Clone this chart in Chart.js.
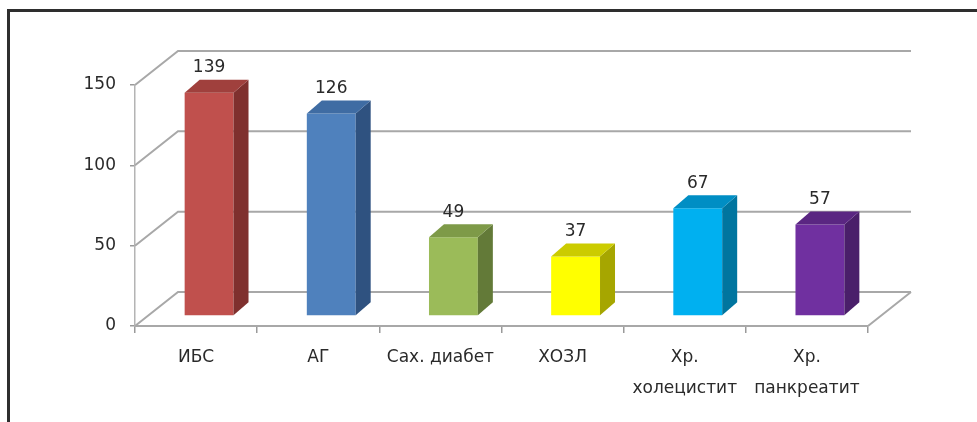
<!DOCTYPE html>
<html>
<head>
<meta charset="utf-8">
<script src="https://cdn.jsdelivr.net/npm/chart.js@4.4.0/dist/chart.umd.min.js"></script>
<style>
  html, body { margin: 0; padding: 0; background: #fff; }
  canvas { display: block; }
</style>
</head>
<body>
<canvas id="barChart" width="977" height="422"></canvas>
<script>
// data
const categories = ["ИБС", "АГ", "Сах. диабет", "ХОЗЛ", ["Хр.", "холецистит"], ["Хр.", "панкреатит"]];
const counts = [139, 126, 49, 37, 67, 57];
const yTickValues = [0, 50, 100, 150];

const frontColors = ["#C0504D", "#4F81BD", "#9BBB59", "#FFFF00", "#00B0F0", "#7030A0"];
const topColors = ["#A0403D", "#3F6CA3", "#7E9A48", "#CCCC00", "#008EC4", "#5A2682"];
const sideColors = ["#7F302E", "#2F5280", "#637A38", "#A6A600", "#00759F", "#4A1F6A"];

const FONT = "'DejaVu Sans', sans-serif";
const TEXT = "#2a2a2a";
const GRID = "#a8a8a8";

// 3d offsets (px)
const wallDepth = { dx: 43, dy: -34 };
const barShift = { dx: 13, dy: -10 };
const barDepth = { dx: 15, dy: -13 };

const fake3d = {
    id: 'fake3d',
    beforeDraw(chart) {
        const c = chart.ctx;
        c.save();
        c.strokeStyle = "#2e2e2e";
        c.lineWidth = 3;
        c.beginPath();
        c.moveTo(8.5, 422);
        c.lineTo(8.5, 10.5);
        c.lineTo(977, 10.5);
        c.stroke();
        c.restore();
    },
    beforeDatasetsDraw(chart) {
        const c = chart.ctx;
        const a = chart.chartArea;
        const ys = chart.scales.y;
        c.save();
        c.strokeStyle = GRID;
        c.lineWidth = 2;
        c.beginPath();
        yTickValues.forEach(v => {
            const py = ys.getPixelForValue(v);
            c.moveTo(a.left, py);
            c.lineTo(a.left + wallDepth.dx, py + wallDepth.dy);
            c.lineTo(a.right + wallDepth.dx, py + wallDepth.dy);
        });
        c.moveTo(a.right, a.bottom);
        c.lineTo(a.right + wallDepth.dx, a.bottom + wallDepth.dy);
        c.stroke();
        c.restore();
        // bars sit a bit deeper than the front plane
        c.save();
        c.translate(barShift.dx, barShift.dy);
    },
    afterDatasetsDraw(chart) {
        const c = chart.ctx;
        c.restore();
        const bars = chart.getDatasetMeta(0).data;
        c.save();
        bars.forEach((bar, i) => {
            const p = bar.getProps(['x', 'y', 'base', 'width'], true);
            const l = p.x - p.width / 2 + barShift.dx;
            const r = p.x + p.width / 2 + barShift.dx;
            const t = p.y + barShift.dy;
            const b = p.base + barShift.dy;
            c.fillStyle = sideColors[i];
            c.beginPath();
            c.moveTo(r, t);
            c.lineTo(r + barDepth.dx, t + barDepth.dy);
            c.lineTo(r + barDepth.dx, b + barDepth.dy);
            c.lineTo(r, b);
            c.closePath();
            c.fill();
            c.fillStyle = topColors[i];
            c.beginPath();
            c.moveTo(l, t);
            c.lineTo(l + barDepth.dx, t + barDepth.dy);
            c.lineTo(r + barDepth.dx, t + barDepth.dy);
            c.lineTo(r, t);
            c.closePath();
            c.fill();
            c.fillStyle = TEXT;
            c.font = "17px " + FONT;
            c.textAlign = 'center';
            c.textBaseline = 'middle';
            c.fillText(String(counts[i]), (l + r) / 2, t - 25);
        });
        c.restore();
    }
};

new Chart(document.getElementById("barChart"), {
    type: 'bar',
    data: {
        labels: categories,
        datasets: [{
            data: counts,
            backgroundColor: frontColors,
            borderWidth: 0,
            categoryPercentage: 1,
            barPercentage: 0.4,
            clip: false
        }]
    },
    options: {
        responsive: false,
        animation: false,
        devicePixelRatio: 1,
        layout: { padding: { top: 85, right: 109, left: 0, bottom: 0 } },
        plugins: {
            legend: { display: false },
            title: { display: false },
            tooltip: { enabled: false }
        },
        scales: {
            x: {
                grid: { offset: true, drawOnChartArea: false, tickLength: 7, color: "#9a9a9a", lineWidth: 1.5 },
                border: { display: true, color: GRID, width: 2 },
                ticks: {
                    color: TEXT,
                    font: { family: FONT, size: 17, lineHeight: 1.77 },
                    padding: 10,
                    maxRotation: 0,
                    autoSkip: false
                },
                afterFit(s) { s.height = 96; }
            },
            y: {
                min: 0,
                max: 150,
                afterBuildTicks(s) { s.ticks = yTickValues.map(v => ({ value: v })); },
                grid: { drawOnChartArea: false, tickLength: 5, color: "#9a9a9a", lineWidth: 1.5 },
                border: { display: true, color: "#b4b4b4", width: 1.5 },
                ticks: {
                    color: TEXT,
                    font: { family: FONT, size: 17 },
                    padding: 14
                },
                afterFit(s) { s.width = 135; }
            }
        }
    },
    plugins: [fake3d]
});
</script>
</body>
</html>
